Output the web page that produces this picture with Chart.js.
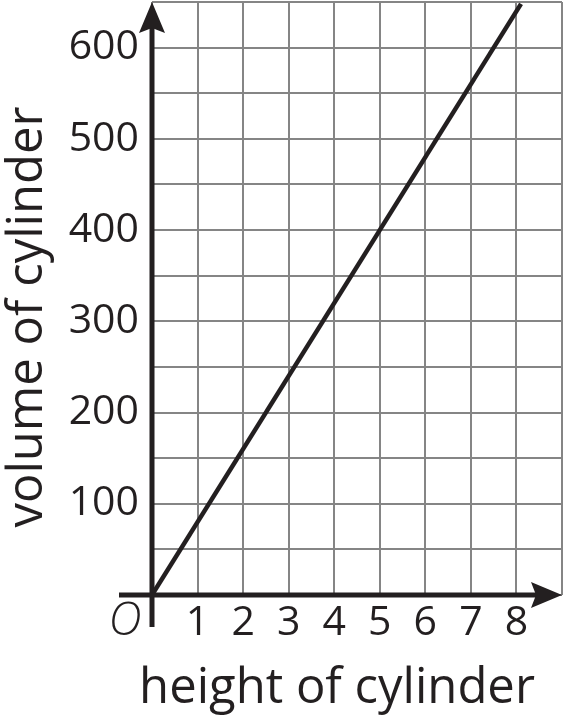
<!doctype html>
<html lang="en">
  <head>
    <meta charset="utf-8">
    <script src="https://cdn.jsdelivr.net/npm/chart.js@4.4.1/dist/chart.umd.min.js"></script>
    <title>Volume of cylinder</title>
    <style>
      * { margin: 0; padding: 0; }
      body { background: #fff; }
      .chartBox { width: 563px; height: 718px; position: relative; }
    </style>
  </head>
  <body>
    <div class="chartBox">
      <canvas id="myChart"></canvas>
    </div>
    <script>
    // data
    const heights = [0, 8.1];
    const volumes = [0, 648];
    const xTicks = [1, 2, 3, 4, 5, 6, 7, 8];
    const xTickLabels = ['1', '2', '3', '4', '5', '6', '7', '8'];
    const yTicks = [100, 200, 300, 400, 500, 600];
    const yTickLabels = ['100', '200', '300', '400', '500', '600'];
    const originLabel = 'O';
    const xTitle = 'height of cylinder';
    const yTitle = 'volume of cylinder';

    const ink = '#231f20';
    const font = '"Open Sans", "DejaVu Sans", sans-serif';

    const points = heights.map((h, i) => ({ x: h, y: volumes[i] }));

    // axes with arrow heads, origin mark and axis titles
    const axesPlugin = {
      id: 'axesPlugin',
      afterDraw(chart) {
        const ctx = chart.ctx;
        const xs = chart.scales.x, ys = chart.scales.y;
        const x0 = xs.getPixelForValue(0), y0 = ys.getPixelForValue(0);
        const top = chart.chartArea.top, right = chart.chartArea.right;
        ctx.save();
        ctx.strokeStyle = ink;
        ctx.fillStyle = ink;
        ctx.lineWidth = 5;
        // y axis
        ctx.beginPath();
        ctx.moveTo(x0, y0 + 32);
        ctx.lineTo(x0, top + 26);
        ctx.stroke();
        ctx.beginPath();
        ctx.moveTo(x0, top);
        ctx.lineTo(x0 + 13, top + 31);
        ctx.lineTo(x0, top + 26);
        ctx.lineTo(x0 - 13, top + 31);
        ctx.closePath();
        ctx.fill();
        // x axis
        ctx.beginPath();
        ctx.moveTo(x0 - 33, y0);
        ctx.lineTo(right - 26, y0);
        ctx.stroke();
        ctx.beginPath();
        ctx.moveTo(right, y0);
        ctx.lineTo(right - 31, y0 - 13);
        ctx.lineTo(right - 26, y0);
        ctx.lineTo(right - 31, y0 + 13);
        ctx.closePath();
        ctx.fill();
        // origin
        ctx.font = 'italic 300 46px ' + font;
        ctx.textAlign = 'center';
        ctx.textBaseline = 'alphabetic';
        ctx.fillText(originLabel, x0 - 27, y0 + 40);
        // titles
        ctx.font = '49px ' + font;
        ctx.fillText(xTitle, 337, 703);
        ctx.translate(42, 317);
        ctx.rotate(-Math.PI / 2);
        ctx.fillText(yTitle, 0, 0);
        ctx.restore();
      }
    };

    new Chart(document.getElementById('myChart'), {
      type: 'line',
      data: {
        datasets: [{
          data: points,
          borderColor: ink,
          borderWidth: 4.5,
          pointRadius: 0,
          fill: false,
          tension: 0
        }]
      },
      options: {
        responsive: true,
        maintainAspectRatio: false,
        animation: false,
        events: [],
        layout: { padding: { top: 2, right: 1, left: 0, bottom: 0 } },
        plugins: { legend: { display: false }, tooltip: { enabled: false } },
        scales: {
          x: {
            type: 'linear',
            min: 0,
            max: 9,
            grid: { color: '#858585', lineWidth: 2, drawTicks: false },
            border: { display: false },
            ticks: {
              stepSize: 1,
              autoSkip: false,
              maxRotation: 0,
              padding: 4,
              color: ink,
              font: { family: font, size: 41 },
              callback: v => { const i = xTicks.indexOf(v); return i < 0 ? '' : xTickLabels[i]; }
            },
            afterFit: s => { s.height = 123; s.paddingLeft = 0; s.paddingRight = 0; }
          },
          y: {
            type: 'linear',
            min: 0,
            max: 650,
            grid: { color: '#858585', lineWidth: 2, drawTicks: false },
            border: { display: false },
            ticks: {
              stepSize: 50,
              autoSkip: false,
              padding: 13,
              color: ink,
              font: { family: font, size: 41 },
              callback: v => { const i = yTicks.indexOf(v); return i < 0 ? '' : yTickLabels[i]; }
            },
            afterFit: s => { s.width = 152; s.paddingTop = 0; s.paddingBottom = 0; }
          }
        }
      },
      plugins: [axesPlugin]
    });
    </script>
  </body>
</html>
